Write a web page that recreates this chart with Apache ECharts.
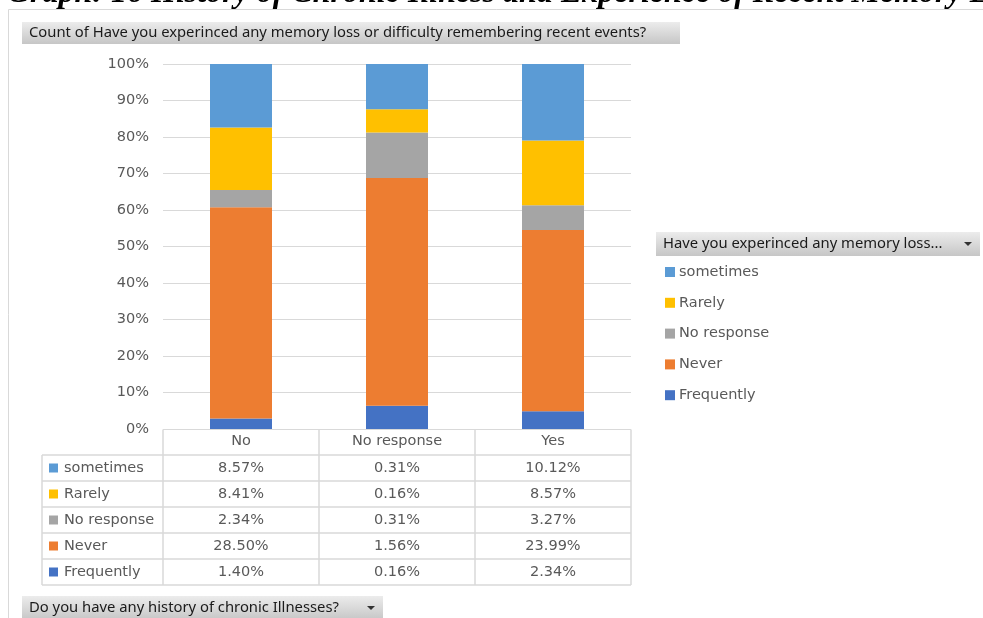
<!DOCTYPE html>
<html><head><meta charset="utf-8">
<script src="https://cdn.jsdelivr.net/npm/echarts@6/dist/echarts.min.js"></script>
<style>html,body{margin:0;padding:0;background:#fff}#c{width:983px;height:618px}</style>
</head><body><div id="c"></div>
<script>
// Data (percent of grand total, as shown in the data table)
const categories = ['No', 'No response', 'Yes'];
const seriesNames = ['sometimes', 'Rarely', 'No response', 'Never', 'Frequently'];
const sometimes  = [8.57, 0.31, 10.12];
const rarely     = [8.41, 0.16, 8.57];
const noResponse = [2.34, 0.31, 3.27];
const never      = [28.50, 1.56, 23.99];
const frequently = [1.40, 0.16, 2.34];
const yTicks = [0, 10, 20, 30, 40, 50, 60, 70, 80, 90, 100];

const colors = {sometimes:'#5B9BD5', Rarely:'#FFC000', 'No response':'#A5A5A5', Never:'#ED7D31', Frequently:'#4472C4'};
const rows = {sometimes: sometimes, Rarely: rarely, 'No response': noResponse, Never: never, Frequently: frequently};

// 100% stacked: normalise each category
const totals = categories.map((c, i) => seriesNames.reduce((s, n) => s + rows[n][i], 0));
const stackOrder = ['Frequently', 'Never', 'No response', 'Rarely', 'sometimes'];

const FONT = '"DejaVu Sans", sans-serif';
const BTNFONT = '"Noto Sans", "Open Sans", sans-serif';
const FS = 14.5;
const chart = echarts.init(document.getElementById('c'), null, {renderer: 'canvas'});

const gridLeft = 163, gridRight = 983 - 631, gridTop = 64, gridBottom = 618 - 429;

const series = stackOrder.map(n => ({
  name: n, type: 'bar', stack: 'total', barWidth: 62,
  itemStyle: {color: colors[n]},
  data: rows[n].map((v, i) => v / totals[i] * 100),
  emphasis: {disabled: true}, animation: false
}));

function button(x, y, w, h, text, arrow) {
  const els = [{
    type: 'rect', shape: {x: x, y: y, width: w, height: h},
    style: {fill: new echarts.graphic.LinearGradient(0, 0, 0, 1, [{offset: 0, color: '#ececec'}, {offset: 1, color: '#c6c6c6'}]), stroke: null}, z: 10
  }, {
    type: 'text', x: x + 7, y: y + h / 2,
    style: {text: text, fontSize: 14.8, fontFamily: BTNFONT, fill: '#1a1a1a', verticalAlign: 'middle'}, z: 11
  }];
  if (arrow) els.push({type: 'polygon', shape: {points: [[x + w - 16, y + h / 2 - 2], [x + w - 8, y + h / 2 - 2], [x + w - 12, y + h / 2 + 2]]}, style: {fill: '#333'}, z: 11});
  return els;
}

chart.setOption({
  animation: false,
  color: stackOrder.map(n => colors[n]),
  grid: {left: gridLeft, right: gridRight, top: gridTop, bottom: gridBottom, containLabel: false},
  legend: {
    data: seriesNames, orient: 'vertical', left: 660, top: 259, icon: 'rect',
    itemWidth: 10, itemHeight: 10, itemGap: 14.8, selectedMode: false,
    textStyle: {fontSize: FS, fontFamily: FONT, color: '#595959', lineHeight: 16, padding: [0, 0, 0, -1]}
  },
  xAxis: {
    type: 'category', data: categories,
    axisLine: {show: true, lineStyle: {color: '#D9D9D9'}}, axisTick: {show: false},
    axisLabel: {fontSize: FS, fontFamily: FONT, color: '#595959', margin: 5}
  },
  yAxis: {
    type: 'value', min: yTicks[0], max: yTicks[yTicks.length - 1], interval: 10,
    axisLabel: {formatter: '{value}%', fontSize: FS, fontFamily: FONT, color: '#595959', margin: 14},
    splitLine: {lineStyle: {color: '#D9D9D9'}}, axisLine: {show: false}, axisTick: {show: false}
  },
  series: series
});

// Table and decorations
const g = [];
// outer chart-area border
g.push({type: 'rect', shape: {x: 8.5, y: 9.5, width: 1100, height: 700}, style: {fill: null, stroke: '#D9D9D9', lineWidth: 1}, z: 1});
// clipped title at the very top
g.push({type: 'text', x: 7, y: 10, style: {text: 'Graph: 16 History of Chronic Illness and Experience of Recent Memory Loss', fontSize: 32, fontWeight: 'bold', fontStyle: 'italic', fontFamily: '"Liberation Serif", "DejaVu Serif", serif', fill: '#000', verticalAlign: 'bottom'}, z: 20});

const colEdges = [0, 1, 2, 3].map(k => gridLeft + k * (983 - gridRight - gridLeft) / 3);
const tableLeft = 42, headTop = 430, rowTop = 455, rowH = 26;
const lineStyle = {stroke: '#D9D9D9', lineWidth: 1.5};
// vertical lines of value columns
colEdges.forEach(x => g.push({type: 'line', shape: {x1: x, y1: headTop, x2: x, y2: rowTop + rowH * 5}, style: lineStyle, z: 5}));
g.push({type: 'line', shape: {x1: tableLeft, y1: rowTop, x2: tableLeft, y2: rowTop + rowH * 5}, style: lineStyle, z: 5});
for (let r = 0; r <= 5; r++) {
  const y = rowTop + r * rowH;
  g.push({type: 'line', shape: {x1: tableLeft, y1: y, x2: colEdges[3], y2: y}, style: lineStyle, z: 5});
}
seriesNames.forEach((n, r) => {
  const cy = rowTop + r * rowH + rowH / 2;
  g.push({type: 'rect', shape: {x: 49, y: cy - 4.5, width: 9, height: 9}, style: {fill: colors[n]}, z: 6});
  g.push({type: 'text', x: 64, y: cy, style: {text: n, fontSize: FS, fontFamily: FONT, fill: '#595959', verticalAlign: 'middle'}, z: 6});
  categories.forEach((c, i) => {
    const cx = chart.convertToPixel({xAxisIndex: 0}, c);
    g.push({type: 'text', x: cx, y: cy, style: {text: rows[n][i].toFixed(2) + '%', fontSize: FS, fontFamily: FONT, fill: '#595959', align: 'center', verticalAlign: 'middle'}, z: 6});
  });
});
button(22, 22, 658, 22, 'Count of Have you experinced any memory loss or difficulty remembering recent events?', false).forEach(e => g.push(e));
button(656, 232, 324, 24, 'Have you experinced any memory loss...', true).forEach(e => g.push(e));
button(22, 596, 361, 24, 'Do you have any history of chronic Illnesses?', true).forEach(e => g.push(e));

chart.setOption({graphic: g});
</script>
</body></html>
